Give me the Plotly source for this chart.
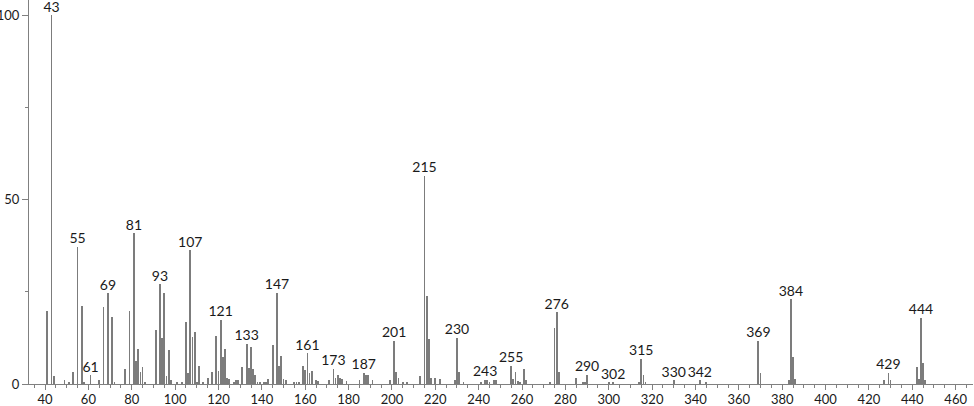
import plotly.graph_objects as go

# m/z values and relative intensities (%)
mz = [41, 43, 44, 49, 51, 53, 55, 57, 58, 61, 65, 67, 69, 71, 72, 77, 79, 81, 82, 83,
      84, 85, 86, 91, 93, 94, 95, 96, 97, 98, 101, 103, 105, 106, 107, 108, 109, 110, 111, 113,
      115, 117, 119, 120, 121, 122, 123, 124, 125, 127, 128, 129, 131, 133, 134, 135, 136, 137, 138, 139,
      141, 142, 143, 145, 147, 148, 149, 150, 151, 155, 156, 157, 159, 160, 161, 162, 163, 165, 166, 171,
      173, 174, 175, 176, 177, 179, 185, 187, 188, 189, 191, 199, 201, 202, 203, 205, 207, 213, 215, 216,
      217, 218, 220, 222, 229, 230, 231, 233, 241, 243, 244, 245, 247, 248, 255, 256, 257, 258, 259, 261,
      262, 273, 275, 276, 277, 285, 288, 289, 290, 300, 302, 314, 315, 316, 317, 330, 342, 345, 369, 370,
      383, 384, 385, 386, 427, 429, 430, 442, 443, 444, 445, 446]
intensity = [19.7, 100, 2.3, 1.1, 0.5, 3.2, 37.3, 21.2, 0.5, 2.4, 1.1, 20.8, 24.6, 18.1, 0.6, 4.1, 19.7, 40.9, 6.2, 9.6,
             3.2, 4.7, 0.5, 14.7, 27.1, 12.6, 24.7, 2.3, 9.3, 1.1, 0.5, 0.5, 16.9, 3.1, 36.3, 12.7, 14.2, 0.6, 4.9, 0.5,
             1.5, 3.3, 13.0, 3.6, 17.5, 7.4, 9.5, 1.6, 1.3, 0.5, 1.0, 1.0, 4.7, 10.9, 4.4, 10.0, 4.0, 2.5, 0.6, 0.6,
             0.5, 0.5, 1.3, 10.7, 24.8, 4.9, 7.5, 1.3, 1.1, 0.5, 0.5, 0.5, 4.8, 3.7, 8.4, 2.9, 3.6, 1.1, 0.9, 1.1,
             4.1, 1.6, 2.5, 1.6, 1.4, 0.8, 1.0, 3.1, 2.5, 2.4, 1.1, 1.1, 11.8, 3.2, 1.7, 0.5, 0.5, 2.2, 56.5, 23.9,
             12.3, 1.7, 1.6, 1.3, 1.2, 12.6, 3.3, 0.5, 0.5, 1.2, 1.2, 0.5, 1.2, 1.2, 4.9, 1.4, 3.3, 0.7, 0.5, 4.0,
             1.2, 0.5, 15.2, 19.5, 3.3, 1.6, 0.5, 0.5, 2.5, 0.4, 0.4, 0.5, 6.8, 2.5, 0.5, 1.0, 1.0, 0.4, 11.8, 3.1,
             1.1, 23.0, 7.2, 1.3, 1.1, 3.1, 1.0, 4.5, 1.3, 18.0, 5.7, 1.1]

labeled_mz = [43, 55, 61, 69, 81, 93, 107, 121, 133, 147, 161, 173, 187, 201, 215, 230, 243,
              255, 276, 290, 302, 315, 330, 342, 369, 384, 429, 444]

x_ticks = [40, 60, 80, 100, 120, 140, 160, 180, 200, 220, 240, 260, 280, 300, 320, 340,
           360, 380, 400, 420, 440, 460]
y_ticks = [0, 50, 100]

lookup = dict(zip(mz, intensity))
label_y = [lookup[m] for m in labeled_mz]

FONT = "Lato"

fig = go.Figure()
fig.add_trace(go.Bar(x=mz, y=intensity, width=0.36,
                     marker=dict(color="#7c7c7c", line=dict(width=0)),
                     hoverinfo="x+y"))
fig.add_trace(go.Scatter(x=labeled_mz, y=label_y, mode="text",
                         text=[str(m) for m in labeled_mz],
                         textposition="top center",
                         textfont=dict(family=FONT, size=14, color="#1a1a1a"),
                         cliponaxis=False, hoverinfo="skip"))

fig.update_layout(
    width=974, height=406,
    margin=dict(l=29, r=1, t=0, b=22),
    paper_bgcolor="white", plot_bgcolor="white",
    showlegend=False, bargap=0,
    font=dict(family=FONT, size=13, color="#1a1a1a"),
)
fig.update_xaxes(range=[32.6, 468], tickvals=x_ticks, ticktext=[str(v) for v in x_ticks],
                 automargin=False,
                 showgrid=False, zeroline=False, showline=True, linecolor="#808080", linewidth=1,
                 ticks="outside", ticklen=5, tickcolor="#808080",
                 minor=dict(dtick=5, tick0=0, ticks="outside", ticklen=3, tickcolor="#808080", showgrid=False),
                 tickfont=dict(family=FONT, size=13, color="#1a1a1a"), ticklabelstandoff=-2)
fig.update_yaxes(range=[0, 104.2], tickvals=y_ticks, ticktext=[str(v) for v in y_ticks],
                 automargin=False,
                 showgrid=False, zeroline=False, showline=True, linecolor="#808080", linewidth=1,
                 ticks="outside", ticklen=6, tickcolor="#808080",
                 minor=dict(tickvals=[25, 75], ticks="outside", ticklen=3, tickcolor="#808080", showgrid=False),
                 tickfont=dict(family=FONT, size=13, color="#1a1a1a"), ticklabelstandoff=0)

fig.write_html("out.html", config={"displayModeBar": False},
               post_script="document.body.style.margin='0';document.body.style.overflow='hidden';")
